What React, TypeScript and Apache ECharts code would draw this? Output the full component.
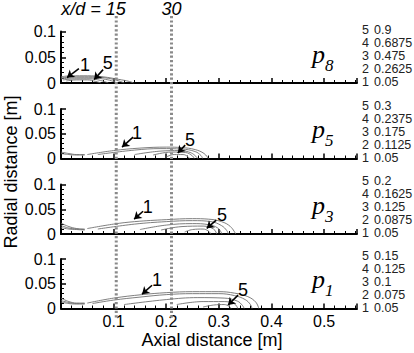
import React, { useEffect, useRef } from 'react';
import * as echarts from 'echarts';

const FONT = '"Liberation Sans", Arial, sans-serif';
const SERIF = '"Liberation Serif", "Times New Roman", serif';

const X_MAX = 0.5625;
const STATION_X = [0.105, 0.21];
const STATION_TEXT = ['x/d = 15', '30'];

const PANEL_SUB = ['8', '5', '3', '1'];
const LEVEL_IDS = ['5', '4', '3', '2', '1'];
const LEVELS_P8 = ['0.9', '0.6875', '0.475', '0.2625', '0.05'];
const LEVELS_P5 = ['0.3', '0.2375', '0.175', '0.1125', '0.05'];
const LEVELS_P3 = ['0.2', '0.1625', '0.125', '0.0875', '0.05'];
const LEVELS_P1 = ['0.15', '0.125', '0.1', '0.075', '0.05'];

// ---- contour lines (x [m], r [m]) ----
const P8_C1 = [[0, 0.012], [0.02, 0.014], [0.05, 0.014], [0.08, 0.012], [0.11, 0.007], [0.13, 0.003], [0.138, 0]];
const P8_C2 = [[0, 0.01], [0.03, 0.012], [0.06, 0.012], [0.09, 0.009], [0.11, 0.004], [0.12, 0]];
const P8_C3 = [[0, 0.008], [0.03, 0.01], [0.06, 0.01], [0.085, 0.007], [0.1, 0.003], [0.106, 0]];
const P8_C4 = [[0.004, 0.006], [0.03, 0.008], [0.055, 0.008], [0.075, 0.005], [0.09, 0]];
const P8_C5 = [[0.01, 0.004], [0.03, 0.006], [0.05, 0.006], [0.066, 0.003], [0.076, 0]];

const P5_N1 = [[0, 0.013], [0.015, 0.01], [0.03, 0.008], [0.045, 0.008]];
const P5_N2 = [[0, 0.01], [0.015, 0.008], [0.03, 0.007], [0.045, 0.007]];
const P5_C1 = [[0.05, 0.008], [0.1, 0.016], [0.15, 0.021], [0.2, 0.023], [0.23, 0.022], [0.255, 0.018], [0.272, 0.01], [0.28, 0]];
const P5_C2 = [[0.07, 0.008], [0.14, 0.017], [0.19, 0.02], [0.23, 0.019], [0.255, 0.014], [0.266, 0.006], [0.269, 0]];
const P5_C3 = [[0.14, 0.008], [0.19, 0.015], [0.225, 0.016], [0.248, 0.011], [0.26, 0]];
const P5_C4 = [[0.175, 0.007], [0.21, 0.013], [0.237, 0.012], [0.25, 0.005], [0.253, 0]];
const P5_C5 = [[0.2, 0.003], [0.215, 0.008], [0.232, 0.008], [0.242, 0.003], [0.244, 0]];

const P3_N1 = [[0, 0.022], [0.015, 0.015], [0.03, 0.011], [0.045, 0.01]];
const P3_N2 = [[0, 0.017], [0.015, 0.012], [0.03, 0.01], [0.045, 0.009]];
const P3_N3 = [[0, 0.013], [0.015, 0.01], [0.03, 0.009], [0.045, 0.008]];
const P3_C1 = [[0.05, 0.011], [0.1, 0.02], [0.14, 0.025], [0.2, 0.029], [0.25, 0.031], [0.28, 0.03], [0.305, 0.025], [0.322, 0.015], [0.332, 0]];
const P3_C2 = [[0.07, 0.01], [0.14, 0.02], [0.2, 0.025], [0.25, 0.027], [0.285, 0.025], [0.305, 0.017], [0.315, 0.007], [0.318, 0]];
const P3_C3 = [[0.15, 0.009], [0.2, 0.018], [0.25, 0.021], [0.28, 0.019], [0.298, 0.012], [0.306, 0]];
const P3_C4 = [[0.19, 0.008], [0.23, 0.015], [0.27, 0.016], [0.29, 0.01], [0.296, 0]];
const P3_C5 = [[0.235, 0.004], [0.25, 0.009], [0.27, 0.01], [0.28, 0.006], [0.285, 0]];

const P1_N1 = [[0, 0.021], [0.015, 0.014], [0.03, 0.011], [0.045, 0.011]];
const P1_N2 = [[0, 0.016], [0.015, 0.012], [0.03, 0.01], [0.045, 0.01]];
const P1_N3 = [[0, 0.013], [0.015, 0.01], [0.03, 0.009], [0.045, 0.009]];
const P1_C1 = [[0.05, 0.011], [0.1, 0.021], [0.154, 0.028], [0.2, 0.032], [0.25, 0.034], [0.3, 0.034], [0.33, 0.031], [0.355, 0.024], [0.37, 0.013], [0.376, 0]];
const P1_C2 = [[0.06, 0.01], [0.1, 0.017], [0.15, 0.023], [0.2, 0.028], [0.25, 0.03], [0.3, 0.03], [0.33, 0.026], [0.35, 0.018], [0.36, 0.008], [0.363, 0]];
const P1_C3 = [[0.12, 0.008], [0.2, 0.018], [0.26, 0.022], [0.31, 0.021], [0.335, 0.015], [0.345, 0.006], [0.348, 0]];
const P1_C4 = [[0.22, 0.008], [0.27, 0.014], [0.31, 0.014], [0.33, 0.009], [0.336, 0]];
const P1_C5 = [[0.27, 0.003], [0.29, 0.007], [0.31, 0.008], [0.32, 0.004], [0.323, 0]];

const CONTOURS = [
  [P8_C1, P8_C2, P8_C3, P8_C4, P8_C5],
  [P5_N1, P5_N2, P5_C1, P5_C2, P5_C3, P5_C4, P5_C5],
  [P3_N1, P3_N2, P3_N3, P3_C1, P3_C2, P3_C3, P3_C4, P3_C5],
  [P1_N1, P1_N2, P1_N3, P1_C1, P1_C2, P1_C3, P1_C4, P1_C5],
];

// ---- annotation arrows: [fromX, fromY, toX, toY] and labels [x, y, text] ----
const ARROWS_P8 = [[0.034, 0.028, 0.0114, 0.0106], [0.08, 0.026, 0.063, 0.0067]];
const ARROWS_P5 = [[0.137, 0.043, 0.116, 0.023], [0.236, 0.027, 0.222, 0.011]];
const ARROWS_P3 = [[0.156, 0.046, 0.139, 0.03], [0.295, 0.028, 0.277, 0.0114]];
const ARROWS_P1 = [[0.173, 0.047, 0.154, 0.029], [0.3365, 0.027, 0.3175, 0.007]];
const LABELS_P8 = [[0.0456, 0.0356, '1'], [0.089, 0.039, '5']];
const LABELS_P5 = [[0.1445, 0.051, '1'], [0.245, 0.037, '5']];
const LABELS_P3 = [[0.165, 0.054, '1'], [0.306, 0.038, '5']];
const LABELS_P1 = [[0.1825, 0.057, '1'], [0.346, 0.037, '5']];

const ARROWS = [ARROWS_P8, ARROWS_P5, ARROWS_P3, ARROWS_P1];
const LABELS = [LABELS_P8, LABELS_P5, LABELS_P3, LABELS_P1];
const LEVELS = [LEVELS_P8, LEVELS_P5, LEVELS_P3, LEVELS_P1];

const GRID_LAYOUT = [
  { top: 31.5, height: 51.5 },
  { top: 109, height: 49.5 },
  { top: 184.5, height: 49.5 },
  { top: 259, height: 49.5 },
];
const GRID_LEFT = 61;
const GRID_WIDTH = 296;

export default function App() {
  const ref = useRef<HTMLDivElement>(null);
  useEffect(() => {
    if (!ref.current) return;
    const chart = echarts.init(ref.current, undefined, { renderer: 'svg' });

    const grid = GRID_LAYOUT.map((g) => ({ left: GRID_LEFT, width: GRID_WIDTH, top: g.top, height: g.height }));
    const xAxis = GRID_LAYOUT.map((_, i) => ({
      type: 'value',
      gridIndex: i,
      min: 0,
      max: X_MAX,
      interval: 0.1,
      axisLine: { show: true, onZero: false, lineStyle: { color: '#000', width: 2 } },
      axisTick: { show: true, inside: true, length: 5, lineStyle: { color: '#000', width: 1.5 } },
      minorTick: { show: true, splitNumber: 5, length: 3, lineStyle: { color: '#000', width: 1 } },
      splitLine: { show: false },
      minorSplitLine: { show: false },
      axisLabel: {
        show: i === 3,
        showMinLabel: false,
        showMaxLabel: false,
        fontSize: 16,
        fontFamily: FONT,
        color: '#000',
        margin: 5,
      },
    }));
    const yAxis = GRID_LAYOUT.map((_, i) => ({
      type: 'value',
      gridIndex: i,
      min: 0,
      max: 0.1,
      interval: 0.05,
      axisLine: { show: true, lineStyle: { color: '#000', width: 2 } },
      axisTick: { show: true, inside: true, length: 5, lineStyle: { color: '#000', width: 1.5 } },
      minorTick: { show: true, splitNumber: 5, length: 3, lineStyle: { color: '#000', width: 1 } },
      splitLine: { show: false },
      minorSplitLine: { show: false },
      axisLabel: {
        fontSize: 16,
        fontFamily: FONT,
        color: '#000',
        margin: 5,
        formatter: (v: number) => (v === 0 ? '0' : String(+v.toFixed(2))),
      },
    }));

    const series: any[] = [];
    CONTOURS.forEach((list, i) => {
      list.forEach((pts, j) => {
        const s: any = {
          type: 'line',
          xAxisIndex: i,
          yAxisIndex: i,
          data: pts,
          showSymbol: false,
          symbol: 'none',
          smooth: 0.4,
          silent: true,
          lineStyle: { color: '#707070', width: 0.9 },
        };
        if (j === 0) {
          s.markLine = {
            silent: true,
            symbol: ['none', 'arrow'],
            symbolSize: 7,
            label: { show: false },
            lineStyle: { color: '#000', width: 1.6, type: 'solid' },
            data: ARROWS[i].map((a) => [{ coord: [a[0], a[1]] }, { coord: [a[2], a[3]] }]),
          };
        }
        series.push(s);
      });
    });

    chart.setOption({ animation: false, grid, xAxis, yAxis, series });

    const graphic: any[] = [];
    STATION_X.forEach((sx, k) => {
      const px = chart.convertToPixel({ xAxisIndex: 0 }, sx) as number;
      graphic.push({
        type: 'line',
        silent: true,
        z: 10,
        shape: { x1: px, y1: 16, x2: px, y2: 318 },
        style: { stroke: '#8a8a8a', lineWidth: 3, lineDash: [2.2, 2.2] },
      });
      graphic.push({
        type: 'text',
        x: k === 0 ? px - 55 : px - 10,
        y: 9,
        style: {
          text: STATION_TEXT[k],
          font: 'italic 18px ' + FONT,
          fill: '#000',
          align: 'left',
          verticalAlign: 'middle',
        },
      });
    });

    GRID_LAYOUT.forEach((g, i) => {
      const zero = g.top + g.height;
      LABELS[i].forEach((l) => {
        const pt = chart.convertToPixel({ gridIndex: i }, [l[0] as number, l[1] as number]) as number[];
        graphic.push({
          type: 'text',
          x: pt[0],
          y: pt[1],
          z: 20,
          style: { text: l[2], font: '18px ' + FONT, fill: '#000', align: 'center', verticalAlign: 'middle' },
        });
      });
      graphic.push({
        type: 'text',
        x: 312,
        y: zero - 29,
        style: { text: 'p', font: 'italic 26px ' + SERIF, fill: '#000', align: 'left', verticalAlign: 'middle' },
      });
      graphic.push({
        type: 'text',
        x: 325,
        y: zero - 18,
        style: { text: PANEL_SUB[i], font: 'italic 17px ' + SERIF, fill: '#000', align: 'left', verticalAlign: 'middle' },
      });
      LEVELS[i].forEach((lv, r) => {
        const y = zero - 1 - (4 - r) * 12.9;
        graphic.push({
          type: 'text',
          x: 362,
          y,
          style: { text: LEVEL_IDS[r], font: '12.5px ' + FONT, fill: '#222', align: 'left', verticalAlign: 'middle' },
        });
        graphic.push({
          type: 'text',
          x: 374,
          y,
          style: { text: lv, font: '12.5px ' + FONT, fill: '#222', align: 'left', verticalAlign: 'middle' },
        });
      });
    });

    graphic.push({
      type: 'text',
      x: 212,
      y: 340,
      style: { text: 'Axial distance [m]', font: '18px ' + FONT, fill: '#000', align: 'center', verticalAlign: 'middle' },
    });
    graphic.push({
      type: 'text',
      x: 11,
      y: 172,
      rotation: Math.PI / 2,
      style: { text: 'Radial distance [m]', font: '18px ' + FONT, fill: '#000', align: 'center', verticalAlign: 'middle' },
    });

    chart.setOption({ graphic });

    return () => chart.dispose();
  }, []);

  return (
    <div
      ref={ref}
      style={{ position: 'absolute', left: 0, top: 0, width: 414, height: 353, background: '#fff' }}
    />
  );
}
